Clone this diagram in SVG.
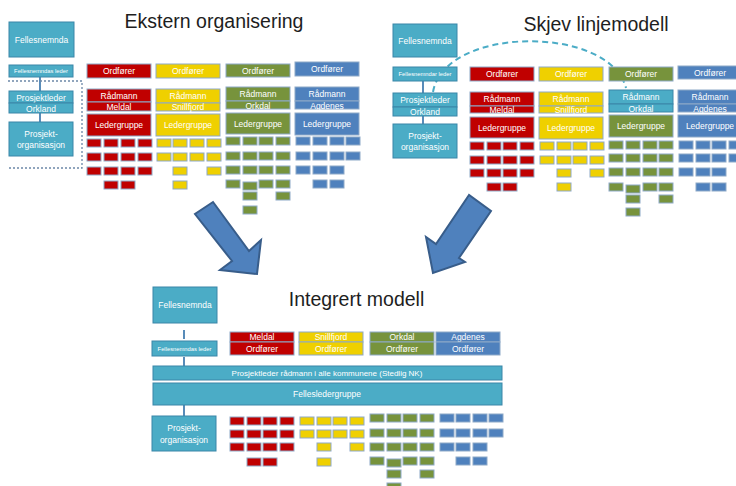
<svg xmlns="http://www.w3.org/2000/svg" xmlns:xlink="http://www.w3.org/1999/xlink" width="736" height="486" viewBox="0 0 736 486">
<style>
text{font-family:"Liberation Sans",Arial,sans-serif;fill:#fff;text-anchor:middle;font-size:8.5px}
.title{fill:#1e1e1e;font-size:19.5px}
.sm{font-size:5.8px}
.bar{font-size:8px}
.r{fill:#C00000}
.y{fill:#EFD000}
.g{fill:#77933C}
.b{fill:#4F81BD}
.t{fill:#4BACC6}
.bx{stroke:#8ea9c8;stroke-width:1}
.tb{stroke:#3a86a8;stroke-width:1}
.s rect,rect.s{stroke:#8ea9c8;stroke-width:1}
.con{stroke:#2f6fa8;stroke-width:1.6;fill:none}
.arrow{fill:#4F81BD;stroke:#385D8A;stroke-width:2;stroke-linejoin:miter}
</style>
<defs>
<rect id="sb" width="14" height="8" stroke="#8ea9c8" stroke-width="1"/>
</defs>
<rect width="736" height="486" fill="#fff"/>

<!-- ============ Ekstern organisering ============ -->
<text class="title" x="214" y="28" font-size="19">Ekstern organisering</text>

<g id="connectors-1">
<line class="con" x1="40" y1="77" x2="40" y2="91"/>
<line class="con" x1="40" y1="113" x2="40" y2="122"/>
<path d="M8 81 H82 V168 H8" fill="none" stroke="#6c88a8" stroke-width="1.3" stroke-dasharray="2 2"/>
</g>
<g id="e-fellesnemnda"><rect class="t tb" x="9" y="22" width="65" height="35"/><text x="41.5" y="42.5">Fellesnemnda</text></g>
<g id="e-leder"><rect class="t tb" x="9" y="65" width="64" height="12"/><text class="sm" x="41" y="73">Fellesnemndas leder</text></g>
<g id="e-prosjektleder"><rect class="t tb" x="9" y="91" width="64" height="12"/><text x="41" y="100.5">Prosjektleder</text><rect class="t tb" x="9" y="103" width="64" height="10"/><text x="41" y="111.5">Orkland</text></g>
<g id="e-prosjektorg"><rect class="t tb" x="9" y="122" width="64" height="34"/><text x="41" y="137">Prosjekt-</text><text x="41" y="148">organisasjon</text></g>

<g id="e-meldal">
<rect class="r bx" x="87" y="64" width="64" height="14"/><text x="119" y="74">Ordfører</text>
<rect class="r bx" x="87" y="89" width="64" height="13"/><text x="119" y="98.5">Rådmann</text>
<rect class="r bx" x="87" y="102" width="64" height="9"/><text x="119" y="110">Meldal</text>
<rect class="r bx" x="87" y="114" width="64" height="22"/><text x="119" y="128">Ledergruppe</text>
<g class="r">
<use href="#sb" x="87" y="139"/><use href="#sb" x="104" y="139"/><use href="#sb" x="121" y="139"/><use href="#sb" x="138" y="139"/>
<use href="#sb" x="87" y="153"/><use href="#sb" x="104" y="153"/><use href="#sb" x="121" y="153"/><use href="#sb" x="138" y="153"/>
<use href="#sb" x="87" y="167"/><use href="#sb" x="104" y="167"/><use href="#sb" x="121" y="167"/><use href="#sb" x="138" y="167"/>
<use href="#sb" x="104" y="181"/><use href="#sb" x="121" y="181"/>
</g>
</g>
<g id="e-snillfjord">
<rect class="y bx" x="156" y="64" width="64" height="14"/><text x="188" y="74">Ordfører</text>
<rect class="y bx" x="156" y="89" width="64" height="14"/><text x="188" y="99">Rådmann</text>
<rect class="y bx" x="156" y="103" width="64" height="8"/><text x="188" y="110">Snillfjord</text>
<rect class="y bx" x="156" y="114" width="64" height="22"/><text x="188" y="128">Ledergruppe</text>
<g class="y">
<use href="#sb" x="157" y="139"/><use href="#sb" x="173" y="139"/><use href="#sb" x="190" y="139"/><use href="#sb" x="207" y="139"/>
<use href="#sb" x="157" y="153"/><use href="#sb" x="173" y="153"/><use href="#sb" x="190" y="153"/><use href="#sb" x="207" y="153"/>
<use href="#sb" x="173" y="167"/><use href="#sb" x="207" y="167"/>
<use href="#sb" x="173" y="181"/>
</g>
</g>
<g id="e-orkdal">
<rect class="g bx" x="226" y="64" width="64" height="13"/><text x="258" y="73.5">Ordfører</text>
<rect class="g bx" x="226" y="87" width="64" height="14"/><text x="258" y="96.5">Rådmann</text>
<rect class="g bx" x="226" y="101" width="64" height="8"/><text x="258" y="108.5">Orkdal</text>
<rect class="g bx" x="226" y="113" width="64" height="21"/><text x="258" y="126.5">Ledergruppe</text>
<g class="g">
<use href="#sb" x="226" y="137"/><use href="#sb" x="243" y="137"/><use href="#sb" x="259" y="137"/><use href="#sb" x="276" y="137"/>
<use href="#sb" x="226" y="152"/><use href="#sb" x="243" y="152"/><use href="#sb" x="259" y="152"/><use href="#sb" x="276" y="152"/>
<use href="#sb" x="226" y="166"/><use href="#sb" x="243" y="166"/><use href="#sb" x="259" y="166"/><use href="#sb" x="276" y="166"/>
<use href="#sb" x="226" y="180"/><use href="#sb" x="243" y="182"/><use href="#sb" x="259" y="180"/><use href="#sb" x="276" y="180"/>
<use href="#sb" x="243" y="192"/><use href="#sb" x="276" y="192"/>
<use href="#sb" x="243" y="206"/>
</g>
</g>
<g id="e-agdenes">
<rect class="b bx" x="295" y="62" width="64" height="14"/><text x="327" y="72">Ordfører</text>
<rect class="b bx" x="295" y="87" width="64" height="14"/><text x="327" y="96.5">Rådmann</text>
<rect class="b bx" x="295" y="101" width="64" height="8"/><text x="327" y="108.5">Agdenes</text>
<rect class="b bx" x="295" y="113" width="64" height="22"/><text x="327" y="127">Ledergruppe</text>
<g class="b">
<use href="#sb" x="296" y="137"/><use href="#sb" x="313" y="137"/><use href="#sb" x="330" y="137"/><use href="#sb" x="346" y="137"/>
<use href="#sb" x="296" y="152"/><use href="#sb" x="313" y="152"/><use href="#sb" x="330" y="152"/><use href="#sb" x="346" y="152"/>
<use href="#sb" x="296" y="166"/><use href="#sb" x="313" y="166"/><use href="#sb" x="330" y="166"/>
<use href="#sb" x="313" y="180"/><use href="#sb" x="330" y="180"/>
</g>
</g>

<!-- ============ Skjev linjemodell ============ -->
<text class="title" x="596" y="31">Skjev linjemodell</text>

<g id="connectors-2">
<path d="M433 92 C445 25 610 25 626 88" fill="none" stroke="#4BACC6" stroke-width="2" stroke-dasharray="6 4"/>
<line class="con" x1="423" y1="81" x2="423" y2="93"/>
<line class="con" x1="423" y1="116" x2="423" y2="124"/>
</g>
<g id="s-fellesnemnda"><rect class="t tb" x="393" y="24" width="64" height="33"/><text x="425" y="43.5">Fellesnemnda</text></g>
<g id="s-leder"><rect class="t tb" x="393" y="67" width="64" height="14"/><text class="sm" x="425" y="76">Fellesnemndar leder</text></g>
<g id="s-prosjektleder"><rect class="t tb" x="393" y="93" width="64" height="14"/><text x="425" y="103">Prosjektleder</text><rect class="t tb" x="393" y="107" width="64" height="9"/><text x="425" y="114.5">Orkland</text></g>
<g id="s-prosjektorg"><rect class="t tb" x="393" y="124" width="64" height="34"/><text x="425" y="139">Prosjekt-</text><text x="425" y="150">organisasjon</text></g>

<g id="s-meldal">
<rect class="r bx" x="470" y="67" width="64" height="14"/><text x="502" y="77">Ordfører</text>
<rect class="r bx" x="470" y="92" width="64" height="14"/><text x="502" y="101.5">Rådmann</text>
<rect class="r bx" x="470" y="106" width="64" height="7"/><text x="502" y="112.5">Meldal</text>
<rect class="r bx" x="470" y="117" width="64" height="21"/><text x="502" y="130.5">Ledergruppe</text>
<g class="r">
<use href="#sb" x="470" y="142"/><use href="#sb" x="487" y="142"/><use href="#sb" x="503" y="142"/><use href="#sb" x="520" y="142"/>
<use href="#sb" x="470" y="156"/><use href="#sb" x="487" y="156"/><use href="#sb" x="503" y="156"/><use href="#sb" x="520" y="156"/>
<use href="#sb" x="470" y="169"/><use href="#sb" x="487" y="169"/><use href="#sb" x="503" y="169"/><use href="#sb" x="520" y="169"/>
<use href="#sb" x="487" y="183"/><use href="#sb" x="503" y="183"/>
</g>
</g>
<g id="s-snillfjord">
<rect class="y bx" x="539" y="67" width="64" height="14"/><text x="571" y="77">Ordfører</text>
<rect class="y bx" x="539" y="92" width="64" height="14"/><text x="571" y="101.5">Rådmann</text>
<rect class="y bx" x="539" y="106" width="64" height="7"/><text x="571" y="112.5">Snillfjord</text>
<rect class="y bx" x="539" y="117" width="64" height="22"/><text x="571" y="131">Ledergruppe</text>
<g class="y">
<use href="#sb" x="540" y="142"/><use href="#sb" x="557" y="142"/><use href="#sb" x="573" y="142"/><use href="#sb" x="590" y="142"/>
<use href="#sb" x="540" y="156"/><use href="#sb" x="557" y="156"/><use href="#sb" x="573" y="156"/><use href="#sb" x="590" y="156"/>
<use href="#sb" x="557" y="169"/><use href="#sb" x="590" y="169"/>
<use href="#sb" x="557" y="183"/>
</g>
</g>
<g id="s-orkdal">
<rect class="g bx" x="609" y="67" width="64" height="14"/><text x="641" y="77">Ordfører</text>
<rect class="t tb" x="609" y="90" width="64" height="14"/><text x="641" y="99.5">Rådmann</text>
<rect class="t tb" x="609" y="104" width="64" height="8"/><text x="641" y="111.5">Orkdal</text>
<rect class="g bx" x="609" y="115" width="64" height="22"/><text x="641" y="129">Ledergruppe</text>
<g class="g">
<use href="#sb" x="609" y="141"/><use href="#sb" x="626" y="141"/><use href="#sb" x="643" y="141"/><use href="#sb" x="659" y="141"/>
<use href="#sb" x="609" y="154"/><use href="#sb" x="626" y="154"/><use href="#sb" x="643" y="154"/><use href="#sb" x="659" y="154"/>
<use href="#sb" x="609" y="168"/><use href="#sb" x="626" y="168"/><use href="#sb" x="643" y="168"/><use href="#sb" x="659" y="168"/>
<use href="#sb" x="609" y="183"/><use href="#sb" x="626" y="185"/><use href="#sb" x="643" y="183"/><use href="#sb" x="659" y="183"/>
<use href="#sb" x="626" y="195"/><use href="#sb" x="659" y="195"/>
<use href="#sb" x="626" y="208"/>
</g>
</g>
<g id="s-agdenes">
<rect class="b bx" x="678" y="66" width="64" height="13"/><text x="710" y="75.5">Ordfører</text>
<rect class="b bx" x="678" y="90" width="64" height="14"/><text x="710" y="99.5">Rådmann</text>
<rect class="b bx" x="678" y="104" width="64" height="8"/><text x="710" y="111.5">Agdenes</text>
<rect class="b bx" x="678" y="115" width="64" height="22"/><text x="710" y="129">Ledergruppe</text>
<g class="b">
<use href="#sb" x="679" y="141"/><use href="#sb" x="696" y="141"/><use href="#sb" x="712" y="141"/><use href="#sb" x="729" y="141"/>
<use href="#sb" x="679" y="154"/><use href="#sb" x="696" y="154"/><use href="#sb" x="712" y="154"/><use href="#sb" x="729" y="154"/>
<use href="#sb" x="679" y="168"/><use href="#sb" x="696" y="168"/><use href="#sb" x="712" y="168"/>
<use href="#sb" x="696" y="183"/><use href="#sb" x="712" y="183"/>
</g>
</g>

<!-- ============ Arrows ============ -->
<g id="arrows">
<polygon class="arrow" points="213,202 249,251 261,240 257,274 220,270 232,261 195,214"/>
<polygon class="arrow" points="469,195 436,244 426,237 433,273 465,262 459,258 491,211"/>
</g>

<!-- ============ Integrert modell ============ -->
<text class="title" x="356.5" y="306" font-size="20">Integrert modell</text>

<g id="connectors-3">
<line class="con" x1="184" y1="330" x2="184" y2="339"/>
<line class="con" x1="184" y1="357" x2="184" y2="366"/>
<line class="con" x1="184" y1="405" x2="184" y2="416"/>
</g>
<g id="i-fellesnemnda"><rect class="t tb" x="153" y="287" width="64" height="36"/><text x="185" y="308">Fellesnemnda</text></g>
<g id="i-leder"><rect class="t tb" x="152" y="341" width="65" height="15"/><text class="sm" x="184.5" y="350.5">Fellesnemndas leder</text></g>
<g id="i-prosjektleder"><rect class="t tb" x="153" y="366" width="349" height="14"/><text class="bar" x="327" y="376">Prosjektleder rådmann i alle kommunene (Stedlig NK)</text></g>
<g id="i-fellesledergruppe"><rect class="t tb" x="153" y="383" width="349" height="22"/><text x="327" y="397">Fellesledergruppe</text></g>
<g id="i-prosjektorg"><rect class="t tb" x="152" y="416" width="64" height="35"/><text x="184" y="431">Prosjekt-</text><text x="184" y="442.5">organisasjon</text></g>

<g id="i-meldal">
<rect class="r bx" x="230" y="332" width="64" height="10"/><text x="262" y="340">Meldal</text>
<rect class="r bx" x="230" y="342" width="64" height="13"/><text x="262" y="351.5">Ordfører</text>
<g class="r">
<use href="#sb" x="230" y="417"/><use href="#sb" x="247" y="417"/><use href="#sb" x="263" y="417"/><use href="#sb" x="280" y="417"/>
<use href="#sb" x="230" y="430"/><use href="#sb" x="247" y="430"/><use href="#sb" x="263" y="430"/><use href="#sb" x="280" y="430"/>
<use href="#sb" x="230" y="443"/><use href="#sb" x="247" y="443"/><use href="#sb" x="263" y="443"/><use href="#sb" x="280" y="443"/>
<use href="#sb" x="247" y="458"/><use href="#sb" x="263" y="458"/>
</g>
</g>
<g id="i-snillfjord">
<rect class="y bx" x="299" y="332" width="64" height="10"/><text x="331" y="340">Snillfjord</text>
<rect class="y bx" x="299" y="342" width="64" height="13"/><text x="331" y="351.5">Ordfører</text>
<g class="y">
<use href="#sb" x="300" y="417"/><use href="#sb" x="317" y="417"/><use href="#sb" x="333" y="417"/><use href="#sb" x="350" y="417"/>
<use href="#sb" x="300" y="430"/><use href="#sb" x="317" y="430"/><use href="#sb" x="333" y="430"/><use href="#sb" x="350" y="430"/>
<use href="#sb" x="317" y="443"/><use href="#sb" x="350" y="443"/>
<use href="#sb" x="317" y="458"/>
</g>
</g>
<g id="i-orkdal">
<rect class="g bx" x="370" y="332" width="64" height="10"/><text x="402" y="340">Orkdal</text>
<rect class="g bx" x="370" y="342" width="64" height="13"/><text x="402" y="351.5">Ordfører</text>
<g class="g">
<use href="#sb" x="370" y="414"/><use href="#sb" x="387" y="414"/><use href="#sb" x="403" y="414"/><use href="#sb" x="420" y="414"/>
<use href="#sb" x="370" y="429"/><use href="#sb" x="387" y="429"/><use href="#sb" x="403" y="429"/><use href="#sb" x="420" y="429"/>
<use href="#sb" x="370" y="443"/><use href="#sb" x="387" y="443"/><use href="#sb" x="403" y="443"/><use href="#sb" x="420" y="443"/>
<use href="#sb" x="370" y="457"/><use href="#sb" x="387" y="459"/><use href="#sb" x="403" y="457"/><use href="#sb" x="420" y="457"/>
<use href="#sb" x="387" y="470"/><use href="#sb" x="420" y="470"/>
<use href="#sb" x="387" y="483"/>
</g>
</g>
<g id="i-agdenes">
<rect class="b bx" x="436" y="332" width="64" height="10"/><text x="468" y="340">Agdenes</text>
<rect class="b bx" x="436" y="342" width="64" height="13"/><text x="468" y="351.5">Ordfører</text>
<g class="b">
<use href="#sb" x="440" y="414"/><use href="#sb" x="456" y="414"/><use href="#sb" x="473" y="414"/><use href="#sb" x="489" y="414"/>
<use href="#sb" x="440" y="429"/><use href="#sb" x="456" y="429"/><use href="#sb" x="473" y="429"/><use href="#sb" x="489" y="429"/>
<use href="#sb" x="440" y="443"/><use href="#sb" x="456" y="443"/><use href="#sb" x="473" y="443"/>
<use href="#sb" x="456" y="457"/><use href="#sb" x="473" y="457"/>
</g>
</g>
</svg>
